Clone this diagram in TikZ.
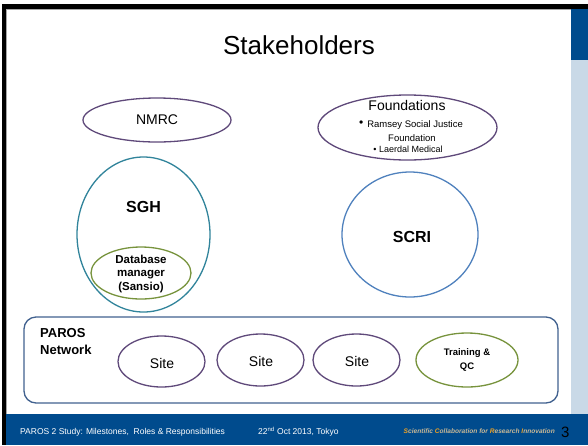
\documentclass[tikz,border=0pt]{standalone}
\usepackage{fontspec}
\setmainfont{Liberation Sans}
\usetikzlibrary{shapes.geometric}
\definecolor{darkblue}{HTML}{004B8D}
\definecolor{lightpanel}{HTML}{C9D9E7}
\definecolor{purp}{HTML}{5F497A}
\definecolor{teal}{HTML}{31849B}
\definecolor{olive}{HTML}{77933C}
\definecolor{scriblue}{HTML}{4F81BD}
\definecolor{rectblue}{HTML}{41618F}
\definecolor{orangeT}{HTML}{F4A21E}
\definecolor{tanT}{HTML}{C8B896}
\begin{document}
\begin{tikzpicture}[x=1pt,y=-1pt,
  oval/.style={ellipse, draw, line width=1.3pt, inner sep=0pt},
  purpoval/.style={oval, draw=purp},
  greenoval/.style={oval, draw=olive},
  lbl/.style={inner sep=0pt, font=\fontsize{14}{16}\selectfont},
  blbl/.style={inner sep=0pt, font=\bfseries\fontsize{11.5}{13.5}\selectfont, align=center},
  foot/.style={inner sep=0pt, anchor=west, text=white, font=\fontsize{8.5}{10}\selectfont}]
\useasboundingbox (0,0) rectangle (588,445);
\fill[white] (0,0) rectangle (588,445);
% frame and side panels
\fill[black] (2,4) rectangle (588,8.5);
\fill[black] (2,4) rectangle (6,445);
\draw[black!35, line width=0.7pt] (6.5,9.2) -- (571,9.2);
\draw[black!35, line width=0.7pt] (6.6,9.2) -- (6.6,414);
\fill[darkblue] (571,8.5) rectangle (588,60);
\fill[lightpanel] (571,60) rectangle (588,414);
\fill[darkblue] (6,414) rectangle (588,445);

% title
\node[inner sep=0pt, font=\fontsize{26}{30}\selectfont] (title) at (299,45) {Stakeholders};

% NMRC
\node[purpoval, minimum width=148pt, minimum height=44pt] (nmrc) at (157,120) {};
\node[lbl] (nmrct) at (nmrc.center) {NMRC};

% Foundations
\node[purpoval, minimum width=179pt, minimum height=65pt] (found) at (407.5,127.5) {};
\node[lbl] (foundt) at (407,105) {Foundations};
\node[inner sep=0pt, font=\fontsize{9.5}{11}\selectfont] (ramsey) at (411,125) {\raisebox{0.2ex}{\fontsize{12}{12}\selectfont•}\hspace{4pt}Ramsey Social Justice};
\node[inner sep=0pt, font=\fontsize{9.5}{11}\selectfont] (foundl) at (412,138) {Foundation};
\node[inner sep=0pt, font=\fontsize{9}{11}\selectfont] (laerdal) at (408,149.5) {• Laerdal Medical};

% SGH
\node[oval, draw=teal, minimum width=133pt, minimum height=155pt] (sgh) at (143.5,234.5) {};
\node[inner sep=0pt, font=\bfseries\fontsize{16}{18}\selectfont] (sght) at (143.5,207) {SGH};
\node[greenoval, minimum width=100pt, minimum height=52pt] (db) at (141,273) {};
\node[blbl] (dbt) at (141,274) {Database\\manager\\(Sansio)};

% SCRI
\node[oval, draw=scriblue, minimum width=136pt, minimum height=125pt] (scri) at (410,234.5) {};
\node[inner sep=0pt, font=\bfseries\fontsize{16}{18}\selectfont] (scrit) at (412,237) {SCRI};

% PAROS network
\node[draw=rectblue, line width=1.3pt, rounded corners=12pt, minimum width=534pt, minimum height=86pt, inner sep=0pt] (paros) at (291,360) {};
\node[inner sep=0pt, anchor=north west, align=left, font=\bfseries\fontsize{13}{17}\selectfont] (parost) at (40,328) {PAROS\\Network};
\node[purpoval, minimum width=87pt, minimum height=51pt] (site1) at (161.5,361.5) {};
\node[lbl] (site1t) at (162,363) {Site};
\node[purpoval, minimum width=87pt, minimum height=52pt] (site2) at (260.5,360) {};
\node[lbl] (site2t) at (261,361) {Site};
\node[purpoval, minimum width=87pt, minimum height=52pt] (site3) at (356.5,360) {};
\node[lbl] (site3t) at (357,361) {Site};
\node[greenoval, minimum width=102pt, minimum height=54pt] (train) at (467,360) {};
\node[inner sep=0pt, align=center, font=\bfseries\fontsize{9.5}{13.5}\selectfont] (traint) at (467,360) {Training \&\\QC};

% footer
\node[foot] (f1) at (20,432) {PAROS 2 Study: Milestones,\ \ Roles \& Responsibilities};
\node[foot] (f2) at (258,432) {22\textsuperscript{nd} Oct 2013, Tokyo};
\node[inner sep=0pt, anchor=east, text=tanT, font=\bfseries\itshape\fontsize{6.6}{8}\selectfont] (f3) at (555,431) {\textcolor{orangeT}{S}cientific \textcolor{orangeT}{C}ollaboration for \textcolor{orangeT}{R}esearch \textcolor{orangeT}{I}nnovation};
\node[inner sep=0pt, anchor=west, font=\fontsize{15}{16}\selectfont] (pg) at (561,432) {3};
\end{tikzpicture}
\end{document}
